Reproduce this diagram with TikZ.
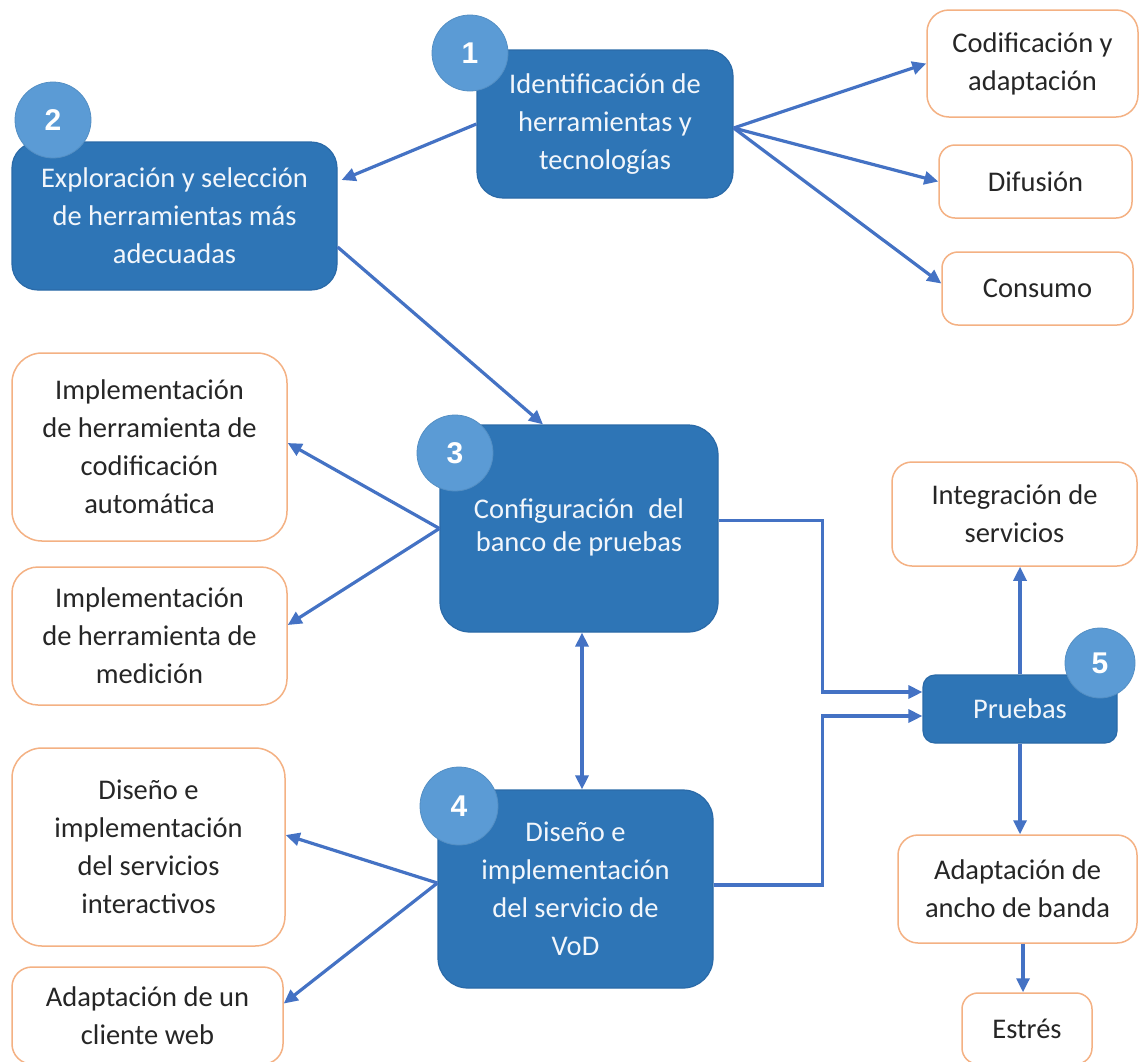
\documentclass[tikz,border=0pt]{standalone}
\usepackage{fontspec}
\setmainfont{Carlito}
\newfontfamily\numfont{Liberation Sans}
\usetikzlibrary{arrows.meta,calc}
\definecolor{boxblue}{HTML}{2E75B6}
\definecolor{boxedge}{HTML}{2A6AA8}
\definecolor{circblue}{HTML}{5B9BD5}
\definecolor{arrowblue}{HTML}{4472C4}
\definecolor{orangeedge}{HTML}{F4B183}
\definecolor{txtdark}{HTML}{262626}
\definecolor{txtlight}{HTML}{F2F6FB}
\tikzset{
  bluebox/.style={draw=boxedge, line width=1.2pt, fill=boxblue, rounded corners=26pt,
    text=txtlight, align=center, font=\fontsize{28.5}{38}\selectfont, inner sep=0pt},
  whitebox/.style={draw=orangeedge, line width=1.5pt, fill=white, rounded corners=26pt,
    text=txtdark, align=center, font=\fontsize{28.5}{38}\selectfont, inner sep=0pt},
  numcircle/.style={circle, fill=circblue, draw=circblue!92!black, line width=0.8pt,
    text=white, font=\numfont\bfseries\fontsize{30}{30}\selectfont, inner sep=0pt},
  conn/.style={draw=arrowblue, line width=3.2pt, -{Triangle[length=14pt,width=13pt]}},
  biconn/.style={draw=arrowblue, line width=3.2pt, {Triangle[length=14pt,width=13pt]}-{Triangle[length=14pt,width=13pt]}},
}
\begin{document}
\begin{tikzpicture}[x=1pt,y=-1pt]
\useasboundingbox (0,0) rectangle (1139,1061);
\fill[white] (0,0) rectangle (1139,1061);
\clip (0,0) rectangle (1139,1061);

% main blue boxes
\node[bluebox, minimum width=256pt, minimum height=148pt] (b1) at (605,124)
  {Identificación de\\herramientas y\\tecnologías};
\node[bluebox, minimum width=325pt, minimum height=148pt] (b2) at (174.5,216)
  {Exploración y selección\\de herramientas más\\adecuadas};
\node[bluebox, minimum width=278pt, minimum height=207pt, rounded corners=30pt] (b3) at (579,528.5)
  {\fontsize{28.5}{33}\selectfont\raisebox{-13pt}{\begin{tabular}{@{}c@{}}Configuración\enspace del\\banco de pruebas\end{tabular}}};
\node[bluebox, minimum width=275pt, minimum height=198pt, rounded corners=30pt] (b4) at (575.5,889)
  {Diseño e\\implementación\\del servicio de\\VoD};
\node[bluebox, minimum width=194pt, minimum height=68pt, rounded corners=12pt] (b5) at (1020,709)
  {Pruebas};

% right boxes
\node[whitebox, minimum width=211pt, minimum height=107pt, rounded corners=22pt] (r1) at (1032.5,63.5)
  {Codificación y\\adaptación};
\node[whitebox, minimum width=193pt, minimum height=73pt, rounded corners=16pt] (r2) at (1035.5,181.5)
  {Difusión};
\node[whitebox, minimum width=191pt, minimum height=73pt, rounded corners=16pt] (r3) at (1037.5,288.5)
  {Consumo};

% left boxes
\node[whitebox, minimum width=275pt, minimum height=188pt, rounded corners=30pt] (l1) at (149.5,447)
  {Implementación\\de herramienta de\\codificación\\automática};
\node[whitebox, minimum width=275pt, minimum height=138pt, rounded corners=26pt] (l2) at (149.5,636)
  {Implementación\\de herramienta de\\medición};
\node[whitebox, minimum width=273pt, minimum height=198pt, rounded corners=30pt] (l3) at (148.5,847)
  {Diseño e\\implementación\\del servicios\\interactivos};
\node[whitebox, minimum width=271pt, minimum height=97pt, rounded corners=20pt] (l4) at (147.5,1015.5)
  {Adaptación de un\\cliente web};

% test boxes
\node[whitebox, minimum width=245pt, minimum height=104pt, rounded corners=20pt] (i1) at (1014.5,514)
  {Integración de\\servicios};
\node[whitebox, minimum width=239pt, minimum height=108pt, rounded corners=20pt] (i2) at (1017.5,889)
  {Adaptación de\\ancho de banda};
\node[whitebox, minimum width=130pt, minimum height=71pt, rounded corners=16pt] (e) at (1027,1028.5)
  {Estrés};

% connectors
\draw[conn] (b1.west) -- ([xshift=4pt,yshift=36pt]b2.east);
\draw[conn] ([yshift=-4pt]b1.east) -- (r1.west);
\draw[conn] ([yshift=-4pt]b1.east) -- (r2.west);
\draw[conn] ([yshift=-4pt]b1.east) -- ([yshift=5pt]r3.west);
\draw[conn] ([yshift=-31pt]b2.east) -- ([xshift=-36pt]b3.north);
\draw[conn] (b3.west) -- ([yshift=4pt]l1.east);
\draw[conn] (b3.west) -- ([yshift=11pt]l2.east);
\draw[conn] ([yshift=6pt]b4.west) -- ([yshift=12pt]l3.east);
\draw[conn] ([yshift=6pt]b4.west) -- ([yshift=12pt]l4.east);
\draw[biconn] ([xshift=3pt]b3.south) -- ([xshift=3pt]b3.south |- b4.north);
\draw[conn] ([yshift=8pt]b3.east) -- ++(104,0) |- ([yshift=17pt]b5.west);
\draw[conn] ([yshift=4pt]b4.east) -- ++(109,0) |- ([yshift=-7pt]b5.west);
\draw[conn] (b5.north) -- (b5.north |- i1.south);
\draw[conn] (b5.south) -- (b5.south |- i2.north);
\draw[conn] ([xshift=-4pt]e.north |- i2.south) -- ([xshift=-4pt]e.north);

% number circles
\node[numcircle, minimum size=76pt] (c1) at (470,53) {1};
\node[numcircle, minimum size=76pt] (c2) at (53,120) {2};
\node[numcircle, minimum size=76pt] (c3) at (455,453) {3};
\node[numcircle, minimum size=78pt] (c4) at (459,806) {4};
\node[numcircle, minimum size=70pt] (c5) at (1100,663) {5};
\end{tikzpicture}
\end{document}
